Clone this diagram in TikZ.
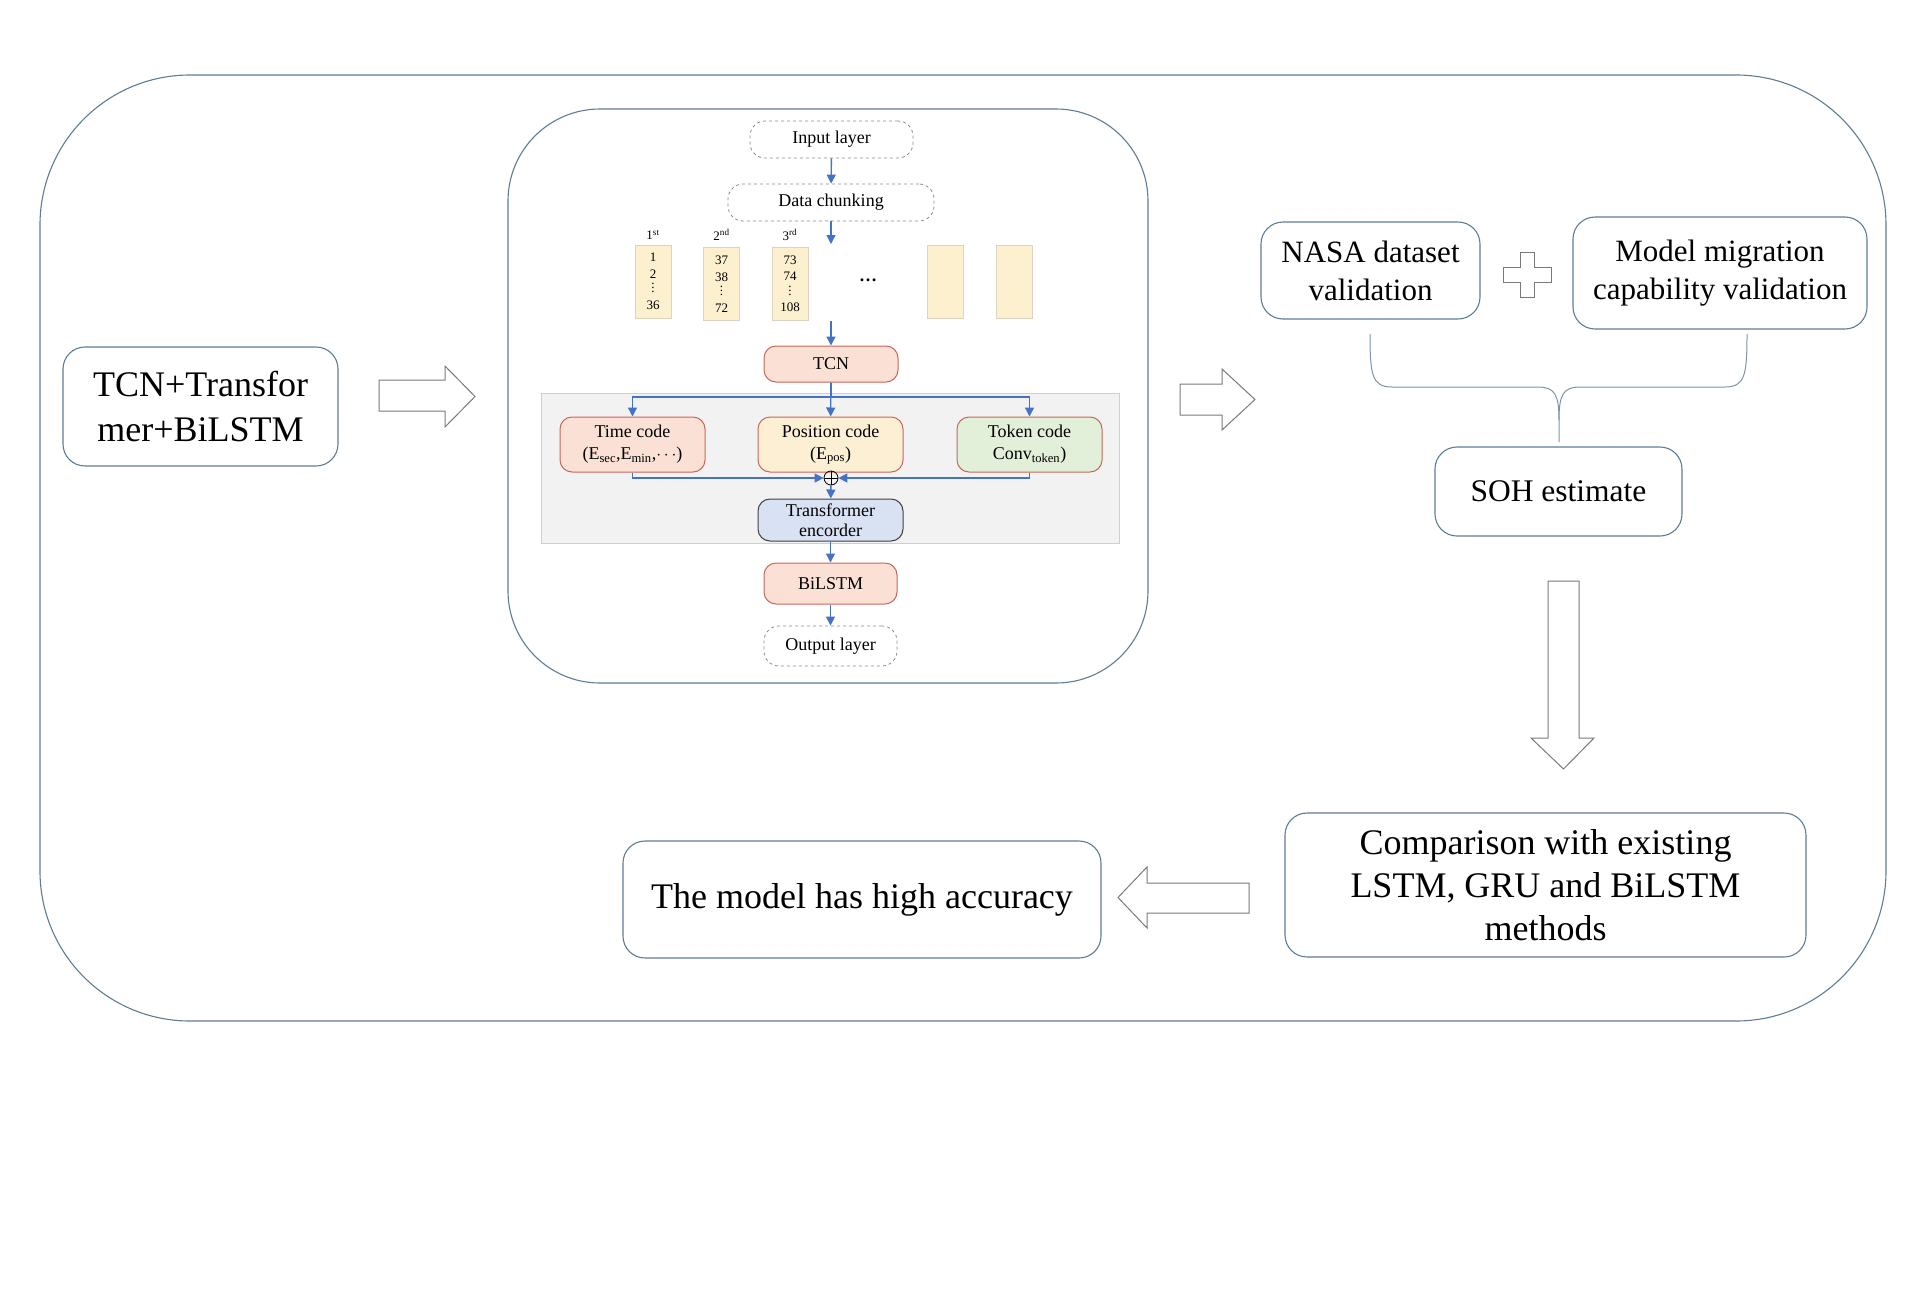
\documentclass[tikz,border=0pt]{standalone}
\usepackage{fontspec}
\setmainfont{Liberation Serif}
\usetikzlibrary{arrows.meta}
\definecolor{framecol}{HTML}{5F7C96}
\definecolor{dashgray}{HTML}{8A8A8A}
\definecolor{layerred}{HTML}{C8675A}
\definecolor{tcnfill}{HTML}{FBE1D5}
\definecolor{posfill}{HTML}{FDEFD3}
\definecolor{tokfill}{HTML}{E2EFD9}
\definecolor{encfill}{HTML}{D9E2F3}
\definecolor{encline}{HTML}{404040}
\definecolor{chunkfill}{HTML}{FDF0CE}
\definecolor{chunkline}{HTML}{DDD3C0}
\definecolor{flowblue}{HTML}{4472C4}
\definecolor{hollowgray}{HTML}{7A7A7A}
\definecolor{panelgray}{HTML}{F2F2F2}
\definecolor{panelline}{HTML}{CFCFCF}
\definecolor{bracecol}{HTML}{7D93AA}
\begin{document}
\begin{tikzpicture}[x=1pt, y=-1pt,
  frame/.style={draw=framecol, line width=1.1pt},
  bigbox/.style={draw=framecol, line width=1.1pt, rounded corners=22pt, align=center, inner sep=0pt, font=\fontsize{31}{38}\selectfont},
  dashbox/.style={draw=dashgray, dashed, line width=0.8pt, rounded corners=15pt, inner sep=0pt, font=\fontsize{18}{20}\selectfont},
  layer/.style={draw=layerred, line width=1pt, rounded corners=12pt, inner sep=0pt, align=center, font=\fontsize{18}{22}\selectfont},
  chunk/.style={fill=chunkfill, draw=chunkline, line width=0.6pt, minimum width=36pt, minimum height=73pt, inner sep=0pt, align=center, font=\fontsize{13}{16.5}\selectfont},
  flow/.style={draw=flowblue, line width=1.4pt, -{Triangle[length=9pt,width=9pt]}},
  hollow/.style={draw=hollowgray, line width=1pt, fill=white, line join=miter}]
\useasboundingbox (0,0) rectangle (1907,1304);
% frames
\draw[frame, rounded corners=150pt] (40,75) rectangle (1886,1021);
\draw[frame, rounded corners=92pt] (508,109) rectangle (1148,683);
\draw[fill=panelgray, draw=panelline, line width=0.8pt] (541,393) rectangle (1119,543);

\node[bigbox, minimum width=275pt, minimum height=119pt, font=\fontsize{36}{45}\selectfont] (hybrid) at (200.5,406.5) {TCN+Transfor\\mer+BiLSTM};

% network
\node[dashbox, minimum width=163pt, minimum height=37pt] (input) at (831.5,139.5) {Input layer};
\node[dashbox, minimum width=206pt, minimum height=37pt] (chunking) at (831,202.5) {Data chunking};
\coordinate (chunkin) at (831,244);
\coordinate (chunkout) at (831,321);
\node[chunk] (c1) at (653,281.5) {1\\2\\[-2pt]$\vdots$\\36};
\node[chunk] (c2) at (721.5,284) {37\\38\\[-2pt]$\vdots$\\72};
\node[chunk] (c3) at (790,284) {73\\74\\[-2pt]$\vdots$\\108};
\node[chunk] (c4) at (945,281.5) {};
\node[chunk] (c5) at (1014,281.5) {};
\node[font=\fontsize{13}{13}\selectfont, inner sep=0pt] at (653,235) {1\textsuperscript{st}};
\node[font=\fontsize{13}{13}\selectfont, inner sep=0pt] at (721.5,235) {2\textsuperscript{nd}};
\node[font=\fontsize{13}{13}\selectfont, inner sep=0pt] at (790,235) {3\textsuperscript{rd}};
\node[font=\fontsize{18}{18}\selectfont\bfseries, inner sep=0pt] (dots) at (868,280) {\dots};
\node[layer, fill=tcnfill, minimum width=134pt, minimum height=36pt] (tcn) at (831,364) {TCN};
\coordinate (split) at (831,397);
\node[layer, fill=tcnfill, minimum width=145pt, minimum height=55pt] (time) at (632.5,444.5) {Time code\\(E\textsubscript{sec},E\textsubscript{min},$\cdots$)};
\node[layer, fill=posfill, minimum width=145pt, minimum height=55pt] (pos) at (830.5,444.5) {Position code\\(E\textsubscript{pos})};
\node[layer, fill=tokfill, minimum width=145pt, minimum height=55pt] (token) at (1029.5,444.5) {Token code\\Conv\textsubscript{token})};
\node[circle, draw=black, line width=0.8pt, minimum size=14pt, inner sep=0pt] (sum) at (831,478) {};
\draw[line width=0.8pt] (sum.north) -- (sum.south) (sum.west) -- (sum.east);
\node[layer, draw=encline, fill=encfill, minimum width=145pt, minimum height=42pt, font=\fontsize{18}{20}\selectfont] (enc) at (830.5,520) {Transformer\\encorder};
\node[layer, fill=tcnfill, minimum width=133pt, minimum height=41pt] (bilstm) at (830.5,583.5) {BiLSTM};
\node[dashbox, minimum width=133pt, minimum height=40pt] (output) at (830.5,646) {Output layer};

\draw[flow] (input) -- (chunking);
\draw[flow] (chunking) -- (chunkin);
\draw[flow] (chunkout) -- (tcn);
\draw[flow] (tcn) -- (split) -| (time.north);
\draw[flow] (tcn) -- (pos);
\draw[flow] (tcn) -- (split) -| (token.north);
\draw[flow] (time.south) |- (sum.west);
\draw[flow] (token.south) |- (sum.east);
\draw[flow] (sum) -- (enc);
\draw[flow] (enc) -- (bilstm);
\draw[flow] (bilstm) -- (output);

% block arrows
\draw[hollow] (379,380) -- (445,380) -- (445,366) -- (475,396.5) -- (445,427) -- (445,411) -- (379,411) -- cycle;
\draw[hollow] (1180,384) -- (1222,384) -- (1222,369) -- (1255,399.5) -- (1222,430) -- (1222,415) -- (1180,415) -- cycle;
\draw[hollow] (1548,581) -- (1579,581) -- (1579,738) -- (1594,738) -- (1563.5,769) -- (1531,738) -- (1548,738) -- cycle;
\draw[hollow] (1249,883) -- (1147,883) -- (1147,867) -- (1118,897.5) -- (1147,928) -- (1147,913) -- (1249,913) -- cycle;

% validation
\node[bigbox, minimum width=219pt, minimum height=97pt] (nasa) at (1370.5,270.5) {NASA dataset\\validation};
\node[bigbox, minimum width=294pt, minimum height=112pt] (migration) at (1720,273) {Model migration\\capability validation};
\draw[hollow] (1520,252) -- (1534,252) -- (1534,267) -- (1551,267) -- (1551,282) -- (1534,282) -- (1534,297) -- (1520,297) -- (1520,282) -- (1503,282) -- (1503,267) -- (1520,267) -- cycle;
\node[bigbox, minimum width=247pt, minimum height=89pt, font=\fontsize{31.5}{38}\selectfont] (soh) at (1558.5,491.5) {SOH estimate};
\coordinate (bl) at (1370,334);
\coordinate (br) at (1747,334);
\coordinate (btip) at (1559,442);
\draw[bracecol, line width=1pt] (bl) .. controls (1370,375) and (1372,387) .. (1392,387) -- (1538,387) .. controls (1555,387) and (1559,395) .. (1559,420) -- (btip);
\draw[bracecol, line width=1pt] (br) .. controls (1747,375) and (1745,387) .. (1725,387) -- (1580,387) .. controls (1563,387) and (1559,395) .. (1559,420);

\node[bigbox, minimum width=521pt, minimum height=144pt, font=\fontsize{36}{43}\selectfont] (compare) at (1545.5,885) {Comparison with existing\\LSTM, GRU and BiLSTM\\methods};
\node[bigbox, minimum width=478pt, minimum height=117pt, font=\fontsize{36}{43}\selectfont] (accuracy) at (862,899.5) {The model has high accuracy};
\end{tikzpicture}
\end{document}
